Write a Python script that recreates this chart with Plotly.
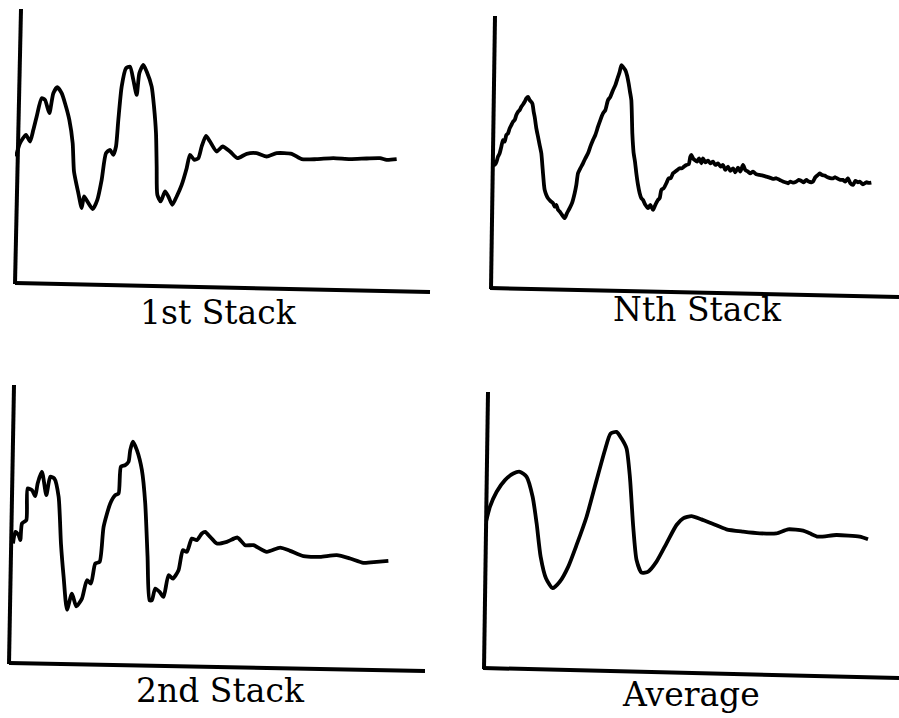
import plotly.graph_objects as go

# ---------------- data ----------------
panel_titles = ["1st Stack", "Nth Stack", "2nd Stack", "Average"]

t_first = [3, 15, 33, 45, 55, 65, 80, 90, 103, 115, 127, 140, 150, 163, 173, 177, 190, 200, 207, 217,
           233, 247, 260, 273, 285, 295, 303, 310, 320, 333, 345, 355, 365, 373, 385, 395, 410, 417,
           423, 425, 427, 437, 450, 460, 472, 485, 500, 515, 525, 538, 550, 560, 573, 585, 605, 623,
           645, 667, 695, 725, 755, 785, 830, 860, 905, 955, 1005, 1055, 1095, 1115, 1145]
a_first = [380, 420, 445, 425, 460, 500, 555, 550, 510, 570, 588, 570, 540, 490, 420, 335, 270, 225, 260, 245,
           222, 250, 310, 390, 400, 385, 410, 490, 590, 645, 650, 610, 565, 630, 655, 635, 590, 530,
           450, 350, 265, 245, 275, 260, 235, 260, 295, 345, 385, 370, 375, 410, 442, 425, 395, 410,
           395, 375, 388, 390, 380, 390, 388, 372, 372, 375, 372, 374, 375, 370, 372]

t_nth = [0, 5, 10, 15, 20, 25, 30, 35, 40, 45, 50, 55, 60, 65, 70, 75, 80, 85, 90, 95, 100, 105, 110, 118,
         122, 125, 130, 135, 140, 145, 148, 150, 153, 155, 160, 165, 172, 180, 185, 190, 195, 200, 207, 215,
         222, 230, 237, 245, 250, 255, 262, 270, 277, 285, 292, 300, 307, 315, 322, 330, 337, 345, 352, 360,
         367, 375, 380, 385, 390, 397, 402, 407, 411, 415, 418, 420, 422, 426, 430, 435, 440, 445, 450, 457,
         465, 472, 480, 487, 495, 500, 505, 512, 520, 527, 533, 540, 547, 553, 560, 567, 573, 580, 587, 592,
         595, 600, 605, 612, 618, 625, 630, 637, 645, 652, 660, 667, 675, 683, 690, 697, 705, 712, 720, 727,
         735, 742, 750, 757, 765, 772, 780, 790, 800, 810, 820, 830, 840, 850, 860, 870, 877, 885, 892, 900,
         910, 917, 925, 932, 940, 947, 955, 960, 967, 975, 980, 987, 995, 1000, 1007, 1015, 1020, 1027, 1035,
         1042, 1050, 1057, 1065, 1072, 1080, 1087, 1095, 1100, 1110, 1120, 1127, 1135]
a_nth = [385, 370, 378, 395, 405, 425, 445, 440, 460, 465, 480, 490, 500, 505, 520, 530, 535, 545, 552, 560, 570, 575, 565, 555,
         530, 515, 480, 455, 430, 405, 370, 345, 310, 295, 280, 270, 262, 255, 245, 250, 235, 230, 220, 210,
         225, 240, 255, 285, 310, 345, 360, 375, 390, 405, 425, 445, 460, 485, 505, 525, 535, 565, 575, 595,
         610, 635, 650, 670, 665, 655, 640, 615, 590, 565, 465, 430, 405, 380, 345, 310, 285, 270, 265, 250,
         240, 250, 235, 250, 265, 270, 295, 300, 315, 330, 330, 345, 350, 355, 360, 360, 365, 370, 372, 395,
         400, 390, 385, 380, 390, 375, 390, 378, 383, 375, 380, 370, 375, 365, 370, 355, 365, 352, 360, 348,
         362, 350, 370, 355, 350, 345, 350, 342, 340, 338, 335, 332, 328, 330, 325, 320, 318, 315, 320, 317,
         320, 325, 322, 318, 325, 320, 318, 320, 333, 340, 345, 340, 338, 335, 332, 330, 330, 333, 328,
         325, 325, 320, 330, 315, 310, 322, 318, 320, 312, 318, 316, 317]

t_second = [0, 7, 17, 22, 27, 40, 44, 57, 67, 74, 87, 100, 112, 124, 137, 144, 152, 162, 177, 190, 207, 222,
            234, 247, 260, 272, 292, 307, 317, 324, 337, 347, 352, 360, 372, 387, 397, 404, 410, 417, 427,
            440, 452, 467, 480, 497, 510, 522, 537, 552, 567, 577, 592, 612, 642, 674, 697, 722, 762, 802,
            832, 872, 922, 972, 1012, 1052, 1092, 1127]
a_second = [358, 393, 383, 368, 418, 428, 523, 518, 500, 538, 573, 503, 558, 553, 498, 358, 258, 160, 208, 170, 193, 248,
            238, 298, 303, 408, 478, 503, 508, 588, 593, 603, 638, 663, 638, 578, 478, 318, 188, 188, 223,
            213, 198, 263, 253, 278, 338, 333, 373, 368, 388, 393, 378, 358, 363, 376, 353, 353, 333, 346,
            336, 320, 318, 323, 313, 300, 303, 306]

t_average = [3, 15, 35, 60, 85, 105, 125, 143, 155, 167, 183, 203, 225, 250, 275, 305, 335, 360, 377, 395,
             410, 425, 435, 445, 455, 470, 490, 515, 545, 575, 595, 620, 650, 685, 725, 775, 825, 875, 910,
             955, 975, 1000, 1055, 1125, 1150]
a_average = [440, 485, 530, 565, 585, 590, 575, 515, 435, 335, 270, 240, 260, 305, 370, 455, 565, 655, 705, 710,
             690, 660, 575, 425, 325, 287, 290, 320, 375, 430, 450, 457, 447, 433, 417, 410, 405, 405, 417,
             413, 405, 395, 400, 395, 387]

x_ranges = [[0, 1245], [0, 1215], [0, 1237], [0, 1240]]
y_ranges = [[0, 820], [0, 815], [0, 830], [0, 827]]

# ---------------- layout geometry (pixels of the 899x718 page) ----------------
W, H = 899, 718
boxes = [  # left, right, top, bottom of the plotting area
    (15, 430, 10, 283),
    (493, 898, 17, 288),
    (13, 425, 386, 663),
    (485, 898, 393, 668),
]
# hand-drawn (slightly skewed) axis lines of the scanned figure: (x0, y0, x1, y1)
axis_strokes = [
    [(21, 9, 15, 284), (15, 283, 430, 292)],
    [(495, 16, 491, 289), (490, 288, 899, 297)],
    [(14, 385, 9, 664), (9, 663, 425, 671)],
    [(488, 392, 484, 669), (483, 668, 899, 678)],
]
title_pos = [(218, 312), (697, 310), (220, 690), (691, 694)]

series = [(t_first, a_first), (t_nth, a_nth), (t_second, a_second), (t_average, a_average)]

fig = go.Figure()
layout = dict(
    width=W, height=H,
    margin=dict(l=0, r=0, t=0, b=0),
    paper_bgcolor="white", plot_bgcolor="rgba(0,0,0,0)",
    showlegend=False,
    annotations=[],
    shapes=[],
)

for i, ((tx, ay), box) in enumerate(zip(series, boxes)):
    n = "" if i == 0 else str(i + 1)
    l, r, t, b = box
    fig.add_trace(go.Scatter(
        x=tx, y=ay, mode="lines",
        line=dict(color="black", width=3.8, shape="spline", smoothing=0.6),
        xaxis="x" + n, yaxis="y" + n, hoverinfo="skip",
    ))
    layout["xaxis" + n] = dict(
        domain=[l / W, r / W], range=x_ranges[i], anchor="y" + n,
        showline=False, showgrid=False, zeroline=False, showticklabels=False, ticks="",
    )
    layout["yaxis" + n] = dict(
        domain=[1 - b / H, 1 - t / H], range=y_ranges[i], anchor="x" + n,
        showline=False, showgrid=False, zeroline=False, showticklabels=False, ticks="",
    )
    for (x0, y0, x1, y1) in axis_strokes[i]:
        layout["shapes"].append(dict(
            type="line", xref="paper", yref="paper",
            x0=x0 / W, y0=1 - y0 / H, x1=x1 / W, y1=1 - y1 / H,
            line=dict(color="black", width=4),
        ))
    cx, cy = title_pos[i]
    layout["annotations"].append(dict(
        text=panel_titles[i], x=cx / W, y=1 - cy / H, xref="paper", yref="paper",
        xanchor="center", yanchor="middle", showarrow=False,
        font=dict(family="DejaVu Serif", size=33, color="black"),
    ))

fig.update_layout(**layout)
fig.write_html("out.html")
